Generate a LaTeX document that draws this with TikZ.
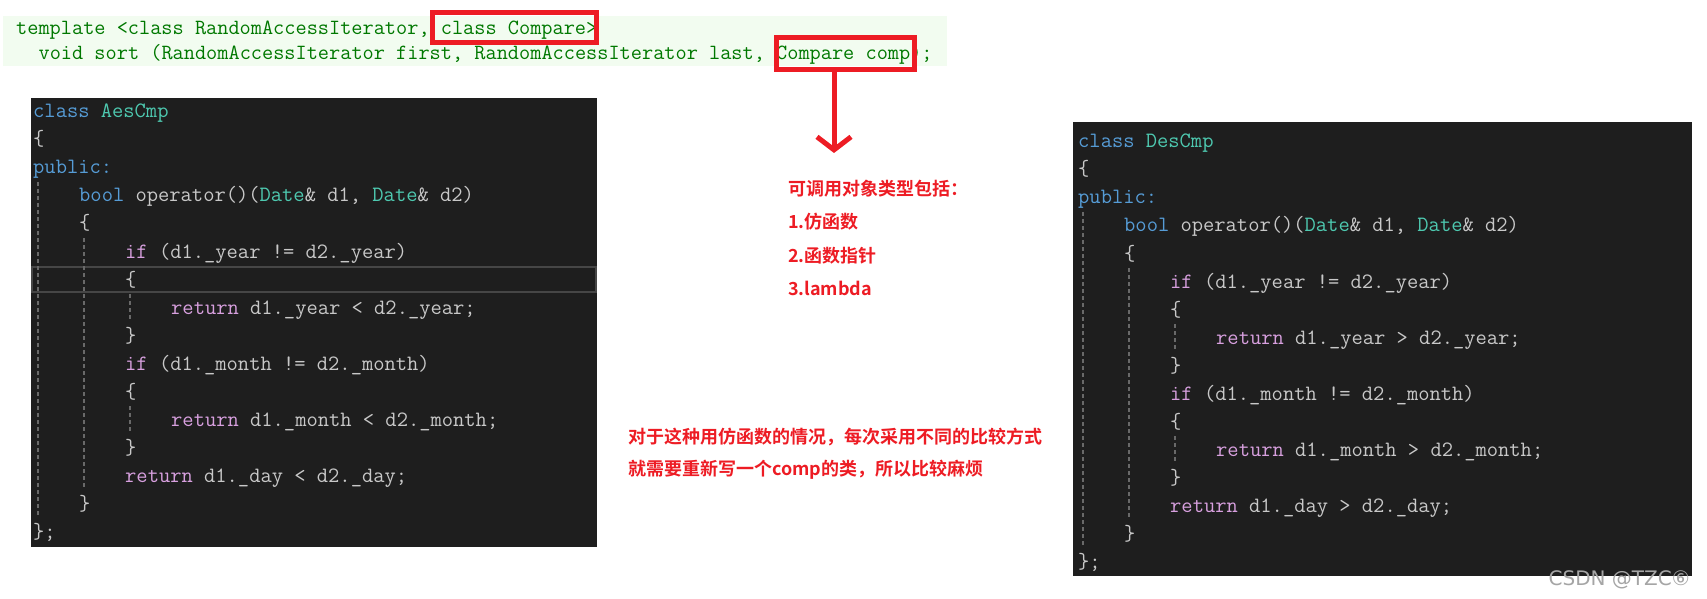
\documentclass[tikz,border=0pt]{standalone}
\usepackage{fontspec}
\usetikzlibrary{arrows.meta}
\newfontfamily\cjk{Noto Sans CJK SC Bold}
\newfontfamily\markfont{DejaVu Sans}
\definecolor{codebg}{RGB}{30,30,30}
\definecolor{kwblue}{RGB}{86,156,214}
\definecolor{typeteal}{RGB}{78,201,176}
\definecolor{ctlpink}{RGB}{216,160,223}
\definecolor{plaingray}{RGB}{200,200,200}
\definecolor{guidegray}{RGB}{105,105,105}
\definecolor{linegray}{RGB}{70,70,70}
\definecolor{markred}{RGB}{237,28,36}
\definecolor{bandgreen}{RGB}{242,252,240}
\definecolor{codegreen}{RGB}{0,120,0}
\definecolor{markgray}{RGB}{165,165,165}
\newcommand{\kw}[1]{\textcolor{kwblue}{#1}}
\newcommand{\ty}[1]{\textcolor{typeteal}{#1}}
\newcommand{\ctl}[1]{\textcolor{ctlpink}{#1}}
\tikzset{
  code/.style={anchor=base west, inner sep=0pt, text=plaingray,
    font=\ttfamily\fontsize{21.9bp}{28bp}\selectfont},
  sig/.style={anchor=base west, inner sep=0pt, text=codegreen,
    font=\ttfamily\fontsize{21.7bp}{25bp}\selectfont},
  note/.style={anchor=base west, inner sep=0pt, text=markred,
    font=\cjk\fontsize{18bp}{22bp}\selectfont},
  guide/.style={guidegray, line width=1.3bp, dash pattern=on 4bp off 3bp},
  redbox/.style={draw=markred, line width=5bp, inner sep=0pt}
}
\begin{document}
\begin{tikzpicture}[x=1bp, y=-1bp]
            \useasboundingbox (0,0) rectangle (1707,599);
            % signature of sort
            \fill [bandgreen] (3,16) rectangle (947,66);
            \node [sig] (sigone) at (16,35) {template <class RandomAccessIterator, class Compare>};
            \node [sig] (sigtwo) at (38.4,60) {void sort (RandomAccessIterator first, RandomAccessIterator last, Compare comp);};
            \node [redbox, minimum width=164bp, minimum height=30bp] (classbox) at (514.5,27.5) {};
            \node [redbox, minimum width=138bp, minimum height=32bp] (cmpbox) at (845.5,53.5) {};
            \coordinate (arrowend) at (834,153);
            \draw [markred, line width=5bp, -{Straight Barb[length=13bp, width=34bp]}]
            (cmpbox.south -| arrowend) -- (arrowend);
            % AesCmp
            \fill [codebg] (31,98) rectangle (597,547);
            \draw [linegray, line width=2.5bp] (32,267) rectangle (596,292);
            \draw [guide] (38,182) -- (38,518);
            \draw [guide] (84,238) -- (84,490);
            \draw [guide] (130,294) -- (130,322);
            \draw [guide] (130,406) -- (130,434);
            \node [code] (aes0) at (33,118) {\kw{class} \ty{AesCmp}};
            \node [code] (aes1) at (33,146) {\{};
            \node [code] (aes2) at (33,174) {\kw{public:}};
            \node [code] (aes3) at (79,202) {\kw{bool} operator()(\ty{Date}\& d1, \ty{Date}\& d2)};
            \node [code] (aes4) at (79,230) {\{};
            \node [code] (aes5) at (125,258) {\ctl{if} (d1.\_year != d2.\_year)};
            \node [code] (aes6) at (125,286) {\{};
            \node [code] (aes7) at (171,314) {\ctl{return} d1.\_year < d2.\_year;};
            \node [code] (aes8) at (125,342) {\}};
            \node [code] (aes9) at (125,370) {\ctl{if} (d1.\_month != d2.\_month)};
            \node [code] (aes10) at (125,398) {\{};
            \node [code] (aes11) at (171,426) {\ctl{return} d1.\_month < d2.\_month;};
            \node [code] (aes12) at (125,454) {\}};
            \node [code] (aes13) at (125,482) {\ctl{return} d1.\_day < d2.\_day;};
            \node [code] (aes14) at (79,510) {\}};
            \node [code] (aes15) at (33,538) {\};};
            % DesCmp
            \fill [codebg] (1073,122) rectangle (1692,576);
            \draw [guide] (1083,212) -- (1083,548);
            \draw [guide] (1129,268) -- (1129,520);
            \draw [guide] (1175,324) -- (1175,352);
            \draw [guide] (1175,436) -- (1175,464);
            \node [code] (des0) at (1078,148) {\kw{class} \ty{DesCmp}};
            \node [code] (des1) at (1078,176) {\{};
            \node [code] (des2) at (1078,204) {\kw{public:}};
            \node [code] (des3) at (1124,232) {\kw{bool} operator()(\ty{Date}\& d1, \ty{Date}\& d2)};
            \node [code] (des4) at (1124,260) {\{};
            \node [code] (des5) at (1170,288) {\ctl{if} (d1.\_year != d2.\_year)};
            \node [code] (des6) at (1170,316) {\{};
            \node [code] (des7) at (1216,344) {\ctl{return} d1.\_year > d2.\_year;};
            \node [code] (des8) at (1170,372) {\}};
            \node [code] (des9) at (1170,400) {\ctl{if} (d1.\_month != d2.\_month)};
            \node [code] (des10) at (1170,428) {\{};
            \node [code] (des11) at (1216,456) {\ctl{return} d1.\_month > d2.\_month;};
            \node [code] (des12) at (1170,484) {\}};
            \node [code] (des13) at (1170,512) {\ctl{return} d1.\_day > d2.\_day;};
            \node [code] (des14) at (1124,540) {\}};
            \node [code] (des15) at (1078,568) {\};};
            % notes
            \node [note] (calltitle) at (788,196) {可调用对象类型包括：};
            \node [note] (callone) at (788,229) {1.仿函数};
            \node [note] (calltwo) at (788,262) {2.函数指针};
            \node [note] (callthree) at (788,295) {3.lambda};
            \node [note] (remarkone) at (628,443) {对于这种用仿函数的情况，每次采用不同的比较方式};
            \node [note] (remarktwo) at (628,475) {就需要重新写一个comp的类，所以比较麻烦};
            \node [anchor=east, inner sep=0pt, text=markgray, font=\markfont\fontsize{20bp}{22bp}\selectfont]
            (mark) at (1690,580) {CSDN @TZC⑥};
        \end{tikzpicture}
\end{document}
